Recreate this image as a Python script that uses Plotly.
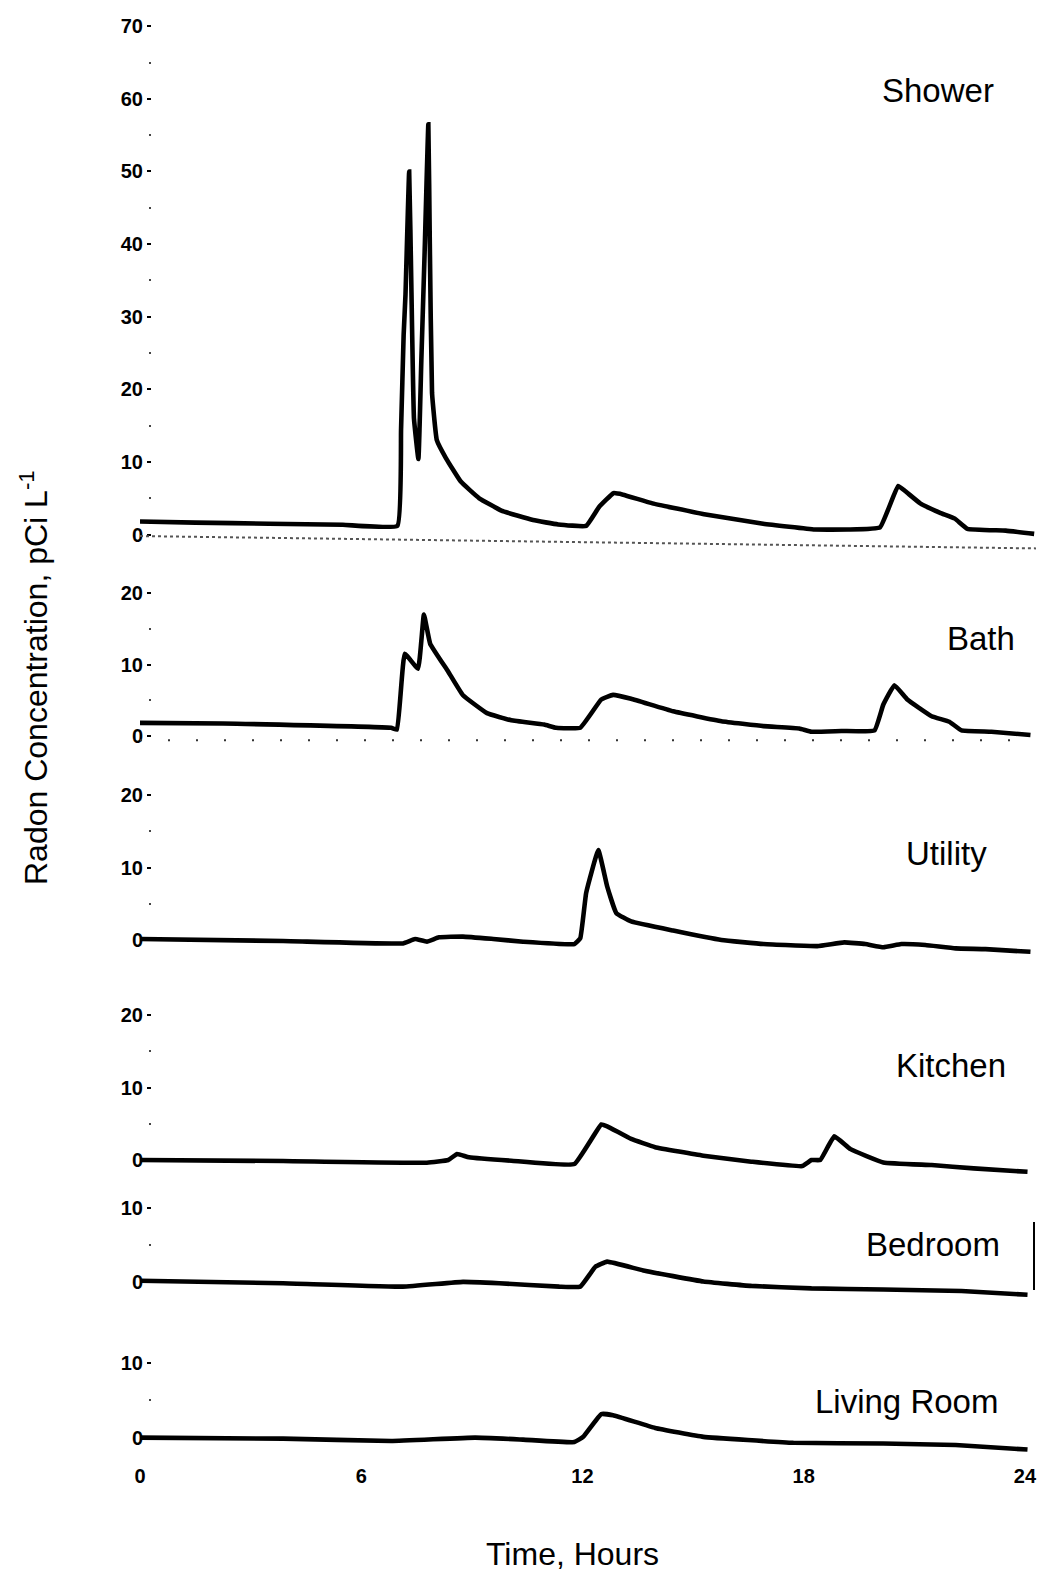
import plotly.graph_objects as go

# ---------------- data (hours, pCi/L) ----------------
shower_t = [0, 1.5, 3.5, 5.5, 6.98, 7.08, 7.15, 7.2, 7.3, 7.36, 7.43, 7.55, 7.63, 7.72, 7.82, 7.86, 7.92, 8.05,
            8.3, 8.7, 9.2, 9.8, 10.66, 11.34, 12.1, 12.45, 12.84, 13.1, 13.9, 15.3, 16.9, 18.3, 19.2, 20.07,
            20.56, 20.75, 21.16, 21.7, 22.1, 22.44, 23.48, 24.25]
shower_v = [1.8, 1.65, 1.5, 1.35, 1.2, 14.5, 27.5, 33, 50, 34, 16, 10.4, 24, 39, 56.5, 40, 19.5, 13.0,
            10.5, 7.3, 5.0, 3.3, 2.0, 1.4, 1.2, 3.8, 5.7, 5.5, 4.3, 2.8, 1.5, 0.7, 0.7, 1.0,
            6.7, 6.0, 4.3, 3.0, 2.2, 0.8, 0.55, 0.1]

bath_t = [0, 2.25, 6.81, 6.97, 7.18, 7.54, 7.70, 7.87, 8.36, 8.76, 9.41, 10.07, 10.96, 11.29, 11.94, 12.51,
          12.83, 13.32, 14.46, 15.77, 16.91, 17.88, 18.21, 19.02, 19.92, 20.16, 20.46, 20.81, 21.47, 21.95,
          22.28, 23.09, 24.15]
bath_v = [1.84, 1.75, 1.15, 0.9, 11.5, 9.4, 17.0, 12.9, 9.0, 5.7, 3.2, 2.2, 1.6, 1.15, 1.15, 5.1,
          5.75, 5.2, 3.45, 2.07, 1.38, 1.06, 0.6, 0.7, 0.78, 4.4, 7.1, 5.1, 2.76, 2.0,
          0.78, 0.6, 0.14]

utility_t = [0, 3.88, 7.13, 7.46, 7.78, 8.11, 8.76, 9.58, 10.39, 11.78, 11.94, 12.1, 12.43, 12.67, 12.92,
             13.32, 14.46, 15.77, 16.91, 18.37, 19.1, 19.67, 20.16, 20.65, 21.3, 22.12, 22.93, 24.15]
utility_v = [0.14, -0.14, -0.47, 0.14, -0.23, 0.37, 0.47, 0.14, -0.23, -0.56, 0.23, 6.5, 12.4, 7.4, 3.7,
             2.56, 1.3, 0.0, -0.56, -0.84, -0.33, -0.56, -1.0, -0.56, -0.7, -1.16, -1.26, -1.63]

kitchen_t = [0, 3.88, 7.78, 8.36, 8.6, 8.92, 10.07, 11.78, 12.51, 12.67, 13.32, 13.97, 15.28, 16.58, 17.96,
             18.21, 18.45, 18.83, 19.27, 20.16, 21.47, 22.61, 24.07]
kitchen_v = [0.0, -0.14, -0.37, 0.0, 0.84, 0.37, -0.1, -0.56, 4.9, 4.65, 2.9, 1.77, 0.6, -0.23, -0.84,
             0.0, 0.0, 3.26, 1.5, -0.33, -0.7, -1.16, -1.63]

bedroom_t = [0, 3.88, 7.13, 8.76, 9.74, 11.37, 11.94, 12.35, 12.67, 13.65, 15.28, 16.58, 18.21, 20.16,
             22.28, 24.07]
bedroom_v = [0.1, -0.24, -0.7, -0.05, -0.24, -0.7, -0.7, 2.0, 2.7, 1.5, 0.0, -0.6, -0.94, -1.08,
             -1.3, -1.8]

living_t = [0, 3.88, 6.81, 9.09, 10.39, 11.78, 12.02, 12.51, 12.83, 13.97, 15.28, 17.72, 20.16, 22.12, 24.07]
living_v = [0.0, -0.14, -0.45, 0.0, -0.27, -0.6, 0.1, 3.15, 3.0, 1.3, 0.1, -0.7, -0.8, -1.0, -1.6]

room_names = ["Shower", "Bath", "Utility", "Kitchen", "Bedroom", "Living Room"]
x_ticks = [0, 6, 12, 18, 24]

series = [(shower_t, shower_v), (bath_t, bath_v), (utility_t, utility_v),
          (kitchen_t, kitchen_v), (bedroom_t, bedroom_v), (living_t, living_v)]

# ---------------- layout geometry (page pixels) ----------------
OFF = 8                      # default body margin of the html page
W, H = 1049 - 2 * OFF, 1579 - 2 * OFF
PLOT_L, PLOT_R = 140, 1036   # page x of plot-area edges
ML, MR = PLOT_L - OFF, W - (PLOT_R - OFF)
PW = W - ML - MR
YAXIS_X = 151                # page x where the (invisible) y axes sit


def py(page_y):
    """page y -> paper fraction"""
    return 1 - (page_y - OFF) / H


def px(page_x):
    """page x -> paper fraction"""
    return (page_x - PLOT_L) / PW


panels = [
    dict(zero=534.6, ppu=7.263, rng=(-2.5, 72.5), ticks=[0, 10, 20, 30, 40, 50, 60, 70], lab=(21.64, 61.1)),
    dict(zero=736.0, ppu=7.15, rng=(-2.0, 22.0), ticks=[0, 10, 20], lab=(22.8, 13.7)),
    dict(zero=940.0, ppu=7.25, rng=(-2.5, 22.0), ticks=[0, 10, 20], lab=(21.86, 12.0)),
    dict(zero=1160.0, ppu=7.25, rng=(-2.5, 22.0), ticks=[0, 10, 20], lab=(22.0, 13.0)),
    dict(zero=1281.5, ppu=7.35, rng=(-2.5, 12.0), ticks=[0, 10], lab=(21.5, 5.0)),
    dict(zero=1437.6, ppu=7.46, rng=(-2.5, 12.0), ticks=[0, 10], lab=(20.8, 4.8)),
]

FONT = "Liberation Sans, Arial, sans-serif"
fig = go.Figure()
layout = dict(
    width=W, height=H,
    margin=dict(l=ML, r=MR, t=0, b=0, autoexpand=False),
    paper_bgcolor="white", plot_bgcolor="white",
    showlegend=False,
    font=dict(family=FONT, color="black"),
)

tickfont = dict(family=FONT, size=20, color="black", weight="bold")

annotations = []
shapes = []
for i, ((t, v), p, name) in enumerate(zip(series, panels, room_names)):
    n = i + 1
    ykey = "yaxis" if n == 1 else f"yaxis{n}"
    yref = "y" if n == 1 else f"y{n}"
    lo, hi = p["rng"]
    bottom_px = p["zero"] + (0 - lo) * p["ppu"]
    top_px = p["zero"] - hi * p["ppu"]
    layout[ykey] = dict(
        domain=[py(bottom_px), py(top_px)],
        range=[lo, hi],
        anchor="free", position=px(YAXIS_X),
        automargin=False,
        tickvals=p["ticks"],
        ticktext=[str(k) for k in p["ticks"]],
        ticks="outside", ticklen=4, tickwidth=2, tickcolor="black",
        minor=dict(dtick=5, ticks="outside", ticklen=2, tickwidth=2, tickcolor="#444", showgrid=False),
        showgrid=False, zeroline=False, showline=False,
        tickfont=tickfont,
        fixedrange=True,
    )
    fig.add_trace(go.Scatter(
        x=t, y=v, mode="lines", name=name,
        line=dict(color="black", width=4.6, shape="spline", smoothing=0.3),
        xaxis="x", yaxis=yref,
    ))
    annotations.append(dict(
        x=p["lab"][0], y=p["lab"][1], xref="x", yref=yref,
        text=name, showarrow=False,
        font=dict(family=FONT, size=33, color="black"),
        xanchor="center", yanchor="middle",
    ))

# scan-like dotted baseline under the shower trace
shapes.append(dict(type="line", xref="x", yref="y", x0=0, x1=24.3, y0=-0.2, y1=-1.9,
                   line=dict(color="#555", width=2, dash="dot")))
# sparse dotted baseline in the bath panel
shapes.append(dict(type="line", xref="x", yref="y2", x0=0, x1=24.2, y0=-0.6, y1=-0.6,
                   line=dict(color="#333", width=2, dash="2px,26px")))
# right edge vertical stroke in the bedroom panel
shapes.append(dict(type="line", xref="paper", yref="paper", x0=px(1034), x1=px(1034),
                   y0=py(1290), y1=py(1222), layer="above", line=dict(color="black", width=2)))

layout["xaxis"] = dict(
    domain=[0, 1], range=[0, 24.3], anchor="y6", automargin=False,
    tickvals=x_ticks, ticktext=[str(k) for k in x_ticks],
    ticks="", showgrid=False, zeroline=False, showline=False,
    tickfont=tickfont, ticklabelstandoff=6, fixedrange=True,
)

annotations.append(dict(
    x=px(572), y=py(1554), xref="paper", yref="paper",
    text="Time, Hours", showarrow=False, font=dict(family=FONT, size=32, color="black"),
    xanchor="center", yanchor="middle",
))
annotations.append(dict(
    x=px(34), y=py(678), xref="paper", yref="paper",
    text="Radon Concentration, pCi L<sup>-1</sup>", showarrow=False, textangle=-90,
    font=dict(family=FONT, size=32, color="black"),
    xanchor="center", yanchor="middle",
))

layout["annotations"] = annotations
layout["shapes"] = shapes
fig.update_layout(**layout)

fig.write_html("out.html")
